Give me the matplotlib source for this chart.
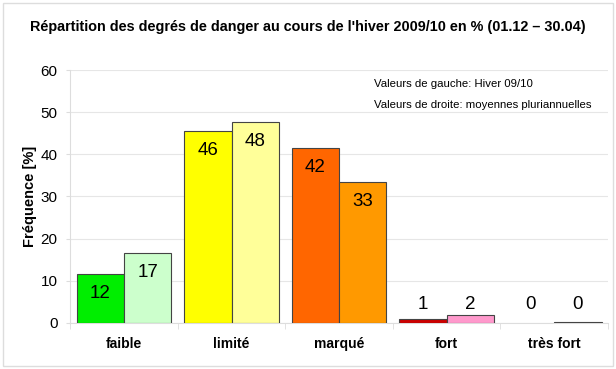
import matplotlib.pyplot as plt
import numpy as np

plt.rcParams['font.family'] = ['Liberation Sans', 'DejaVu Sans']

categories = ["faible", "limité", "marqué", "fort", "très fort"]
hiver = [11.6, 45.6, 41.6, 0.9, 0.0]          # valeurs de gauche: hiver 09/10
moyennes = [16.6, 47.6, 33.4, 1.9, 0.2]       # valeurs de droite: moyennes pluriannuelles
hiver_labels = ["12", "46", "42", "1", "0"]
moyennes_labels = ["17", "48", "33", "2", "0"]
colors_left = ["#00ee00", "#ffff00", "#ff6600", "#cc0000", "#000000"]
colors_right = ["#ccffcc", "#ffff99", "#ff9900", "#ff99cc", "#000000"]

fig = plt.figure(figsize=(6.16, 3.69), dpi=100)
ax = fig.add_axes([0.114, 0.125, 0.873, 0.685])

x = np.arange(len(categories))
w = 0.44
edges_left = ["#444444" if v > 0 else "none" for v in hiver]
ax.bar(x - w / 2, hiver, w, color=colors_left, edgecolor=edges_left, linewidth=0.8, zorder=3)
ax.bar(x + w / 2, moyennes, w, color=colors_right, edgecolor="#444444", linewidth=0.8, zorder=3)

for i in range(len(categories)):
    for xs, v, lab in [(x[i] - w / 2, hiver[i], hiver_labels[i]), (x[i] + w / 2, moyennes[i], moyennes_labels[i])]:
        y = v - 4.6 if v > 8 else 4.3
        ax.text(xs, y, lab, ha="center", va="center", fontsize=13.5, zorder=4)

ax.set_xlim(-0.5, len(categories) - 0.5)
ax.set_ylim(0, 60)
ax.set_yticks(range(0, 61, 10))
ax.set_xticks(x)
ax.set_xticklabels(categories, fontsize=10, fontweight="bold")
ax.set_xticks(np.arange(-0.5, len(categories)), minor=True)
ax.tick_params(axis="x", which="major", length=0, pad=10)
ax.tick_params(axis="x", which="minor", length=4, color="#dddddd")
ax.tick_params(axis="y", labelsize=11, length=3, color="#dddddd", pad=6)
ax.grid(axis="y", color="#e6e6e6", linewidth=0.8, zorder=0)
for s in ["top", "right"]:
    ax.spines[s].set_visible(False)
for s in ["left", "bottom"]:
    ax.spines[s].set_color("#dddddd")

ax.set_ylabel("Fréquence [%]", fontsize=10.5, fontweight="bold", labelpad=3)
fig.text(0.5, 0.915, "Répartition des degrés de danger au cours de l'hiver 2009/10 en % (01.12 – 30.04)",
         ha="center", fontsize=10.4, fontweight="bold")
ax.text(0.565, 0.935, "Valeurs de gauche: Hiver 09/10", transform=ax.transAxes, fontsize=8.2)
ax.text(0.565, 0.85, "Valeurs de droite: moyennes pluriannuelles", transform=ax.transAxes, fontsize=8.2)

fig.patches.append(plt.Rectangle((0.005, 0.008), 0.99, 0.984, transform=fig.transFigure,
                                 fill=False, edgecolor="#dddddd", linewidth=1))

fig.savefig("out.png", dpi=100)
